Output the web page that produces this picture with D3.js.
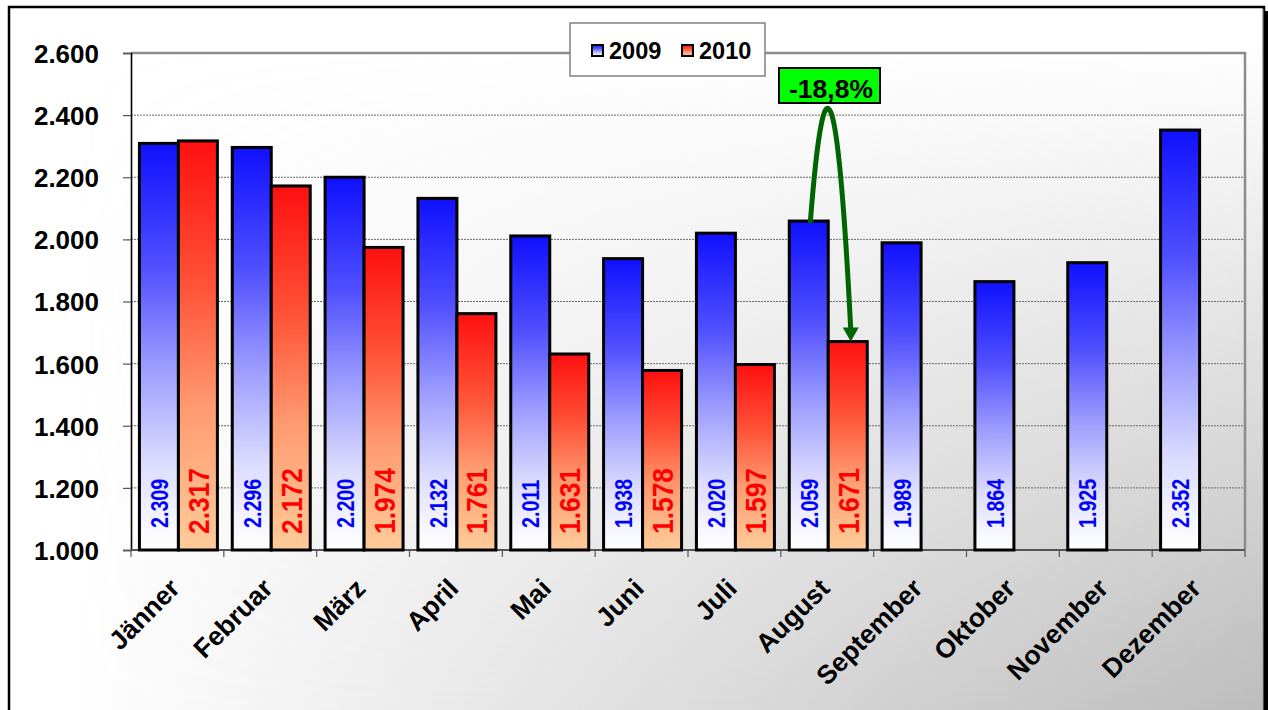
<!DOCTYPE html>
<html>
<head>
<meta charset="utf-8">
<script src="https://cdn.jsdelivr.net/npm/d3@7"></script>
<style>
  html, body { margin: 0; padding: 0; background: #ffffff; }
  svg { display: block; font-family: "Liberation Sans", Arial, Helvetica, sans-serif; }
</style>
</head>
<body>
<svg id="chart" width="1268" height="710"></svg>
<script>
// Monthly values, 2009 vs. 2010
const months = ["Jänner", "Februar", "März", "April", "Mai", "Juni", "Juli",
                "August", "September", "Oktober", "November", "Dezember"];
const seriesNames = ["2009", "2010"];
const values2009 = [2309, 2296, 2200, 2132, 2011, 1938, 2020, 2059, 1989, 1864, 1925, 2352];
const values2010 = [2317, 2172, 1974, 1761, 1631, 1578, 1597, 1671];
const yTicks = [1000, 1200, 1400, 1600, 1800, 2000, 2200, 2400, 2600];
const compareMonth = "August";

const de = d3.formatLocale({ decimal: ",", thousands: ".", grouping: [3], currency: ["", " €"], minus: "-" });
const fmtNum = de.format(",");
const fmtPct = de.format(".1%");

const svg = d3.select("#chart");
const W = 1268, H = 710;
const plot = { left: 131, right: 1245, top: 53, bottom: 550 };

const defs = svg.append("defs");

// ---- gradients ----
function vGrad(id, stops) {
  const g = defs.append("linearGradient").attr("id", id)
    .attr("x1", 0).attr("y1", 0).attr("x2", 0).attr("y2", 1);
  stops.forEach(([o, c]) => g.append("stop").attr("offset", o).attr("stop-color", c));
}
vGrad("blueFill", [[0, "#1010ff"], [0.3, "#4f4fff"], [0.55, "#9c9cff"], [0.78, "#dadaff"], [0.92, "#f4f4ff"], [1, "#ffffff"]]);
vGrad("redFill", [[0, "#ff1010"], [0.35, "#ff5236"], [0.65, "#ff9a70"], [1, "#ffcc99"]]);

// background shading: darkens towards the lower right corner
const hg = defs.append("linearGradient").attr("id", "bgH")
  .attr("x1", 0).attr("y1", 0).attr("x2", 1).attr("y2", 0);
hg.append("stop").attr("offset", 0).attr("stop-color", "#bcbcbc").attr("stop-opacity", 0);
hg.append("stop").attr("offset", 0.05).attr("stop-color", "#bcbcbc").attr("stop-opacity", 0);
hg.append("stop").attr("offset", 1).attr("stop-color", "#bcbcbc").attr("stop-opacity", 1);
const vg = defs.append("linearGradient").attr("id", "bgV")
  .attr("x1", 0).attr("y1", 0).attr("x2", 0).attr("y2", 1);
vg.append("stop").attr("offset", 0).attr("stop-color", "#000");
vg.append("stop").attr("offset", 0.05).attr("stop-color", "#000");
vg.append("stop").attr("offset", 1).attr("stop-color", "#fff");
defs.append("mask").attr("id", "bgMask")
  .attr("maskUnits", "userSpaceOnUse").attr("x", 0).attr("y", 0).attr("width", W).attr("height", H)
  .append("rect").attr("x", 9).attr("y", 7).attr("width", 1255).attr("height", 706).attr("fill", "url(#bgV)");

// ---- frame ----
svg.append("rect").attr("x", 13).attr("y", 11).attr("width", 1255).attr("height", 710).attr("fill", "#000");
svg.append("rect").attr("x", 9).attr("y", 7).attr("width", 1255).attr("height", 710)
  .attr("fill", "#ffffff").attr("stroke", "#000").attr("stroke-width", 2.5);
svg.append("rect").attr("x", 10.5).attr("y", 8.5).attr("width", 1252).attr("height", 706)
  .attr("fill", "url(#bgH)").attr("mask", "url(#bgMask)");
svg.append("line").attr("x1", 1263).attr("x2", 1263).attr("y1", 9).attr("y2", H)
  .attr("stroke", "#9a9a9a").attr("stroke-width", 1);

// ---- scales ----
const x = d3.scaleBand().domain(months).range([plot.left, plot.right])
  .paddingInner(0.16).paddingOuter(0.08);
const xSub = d3.scaleBand().domain(seriesNames).range([0, x.bandwidth()]);
const y = d3.scaleLinear().domain([yTicks[0], yTicks[yTicks.length - 1]]).range([plot.bottom, plot.top]);

// ---- grid ----
svg.append("g").selectAll("line")
  .data(yTicks.filter(t => t > yTicks[0] && t < yTicks[yTicks.length - 1]))
  .join("line")
  .attr("x1", plot.left).attr("x2", plot.right)
  .attr("y1", d => y(d)).attr("y2", d => y(d))
  .attr("stroke", "#6a6a6a").attr("stroke-width", 1).attr("stroke-dasharray", "2,1");

// plot area border (top / right)
svg.append("path")
  .attr("d", `M${plot.left},${y(yTicks[yTicks.length - 1])}H${plot.right}V${plot.bottom}`)
  .attr("fill", "none").attr("stroke", "#8c8c8c").attr("stroke-width", 2.5);

// ---- y axis ----
const yAxis = svg.append("g")
  .attr("transform", `translate(${plot.left},0)`)
  .call(d3.axisLeft(y).tickValues(yTicks).tickFormat(fmtNum).tickSize(8).tickPadding(24));
yAxis.select(".domain").attr("stroke", "#000").attr("stroke-width", 1.6);
yAxis.selectAll(".tick line").attr("stroke", "#555").attr("stroke-width", 1.2);
yAxis.selectAll(".tick text")
  .attr("fill", "#000").attr("font-size", 26).attr("font-weight", "bold")
  .attr("font-family", "'Liberation Sans', Arial, sans-serif")
  .attr("dy", "0.36em");

// ---- x axis ----
svg.append("line").attr("x1", plot.left).attr("x2", plot.right)
  .attr("y1", plot.bottom).attr("y2", plot.bottom)
  .attr("stroke", "#555").attr("stroke-width", 2);
const boundaries = months.map(m => x(m) - x.step() * x.paddingInner() / 2).concat([plot.right]);
svg.append("g").selectAll("line").data(boundaries).join("line")
  .attr("x1", d => d).attr("x2", d => d)
  .attr("y1", plot.bottom).attr("y2", plot.bottom + 7)
  .attr("stroke", "#555").attr("stroke-width", 1.2);
svg.append("g").selectAll("text").data(months).join("text")
  .attr("transform", d => `translate(${x(d) + x.bandwidth() / 2 + 4},${plot.bottom + 40}) rotate(-45)`)
  .attr("text-anchor", "end")
  .attr("font-size", 26.5).attr("font-weight", "bold").attr("fill", "#000")
  .text(d => d);

// ---- bars ----
const bars = [];
months.forEach((m, i) => {
  bars.push({ month: m, series: "2009", value: values2009[i] });
  if (i < values2010.length) bars.push({ month: m, series: "2010", value: values2010[i] });
});

svg.append("g").selectAll("rect").data(bars).join("rect")
  .attr("x", d => x(d.month) + xSub(d.series) + 1)
  .attr("width", xSub.bandwidth())
  .attr("y", d => y(d.value))
  .attr("height", d => y(yTicks[0]) - y(d.value))
  .attr("fill", d => d.series === "2009" ? "url(#blueFill)" : "url(#redFill)")
  .attr("stroke", "#000").attr("stroke-width", 3);

// value labels, vertical near the bar foot
const labelStyle = {
  "2009": { size: 24, scale: 0.82, color: "#0000ff", base: plot.bottom - 22 },
  "2010": { size: 29, scale: 0.91, color: "#ff0000", base: plot.bottom - 16 }
};
svg.append("g").selectAll("text").data(bars).join("text")
  .attr("transform", d => {
    const s = labelStyle[d.series];
    const cx = x(d.month) + xSub(d.series) + xSub.bandwidth() / 2 + 2;
    return `translate(${cx},${s.base}) rotate(-90) scale(${s.scale},1)`;
  })
  .attr("dominant-baseline", "central")
  .attr("font-size", d => labelStyle[d.series].size)
  .attr("font-weight", "bold")
  .attr("fill", d => labelStyle[d.series].color)
  .text(d => fmtNum(d.value));

// ---- legend ----
const legend = svg.append("g");
legend.append("rect").attr("x", 570).attr("y", 23).attr("width", 195).attr("height", 53)
  .attr("fill", "#ffffff").attr("stroke", "#808080").attr("stroke-width", 1.5);
const legendItems = [
  { name: seriesNames[0], fill: "url(#blueFill)", x: 592 },
  { name: seriesNames[1], fill: "url(#redFill)", x: 682 }
];
legendItems.forEach(it => {
  legend.append("rect").attr("x", it.x).attr("y", 45).attr("width", 11).attr("height", 11)
    .attr("fill", it.fill).attr("stroke", "#000").attr("stroke-width", 2);
  legend.append("text").attr("x", it.x + 17).attr("y", 59)
    .attr("font-size", 23.5).attr("font-weight", "bold").attr("fill", "#000")
    .text(it.name);
});

// ---- change annotation for the compared month ----
const ci = months.indexOf(compareMonth);
const v0 = values2009[ci], v1 = values2010[ci];
const sx = x(compareMonth) + xSub("2009") + xSub.bandwidth() / 2 + 2.5;
const sy = y(v0) + 2;
const tipX = x(compareMonth) + xSub("2010") + xSub.bandwidth() / 2 + 4;
const tipY = y(v1);
const headLen = 14, headHalf = 8;
const peakX = (sx + tipX) / 2 + 0.5, peakY = y(2400) - 3;
const ex = tipX, ey = tipY - headLen;
const cx = 2 * peakX - 0.5 * (sx + ex), cy = 2 * peakY - 0.5 * (sy + ey);
svg.append("path")
  .attr("d", `M${sx},${sy}Q${cx},${cy} ${ex},${ey + 2}`)
  .attr("fill", "none").attr("stroke", "#006400").attr("stroke-width", 5);
svg.append("path")
  .attr("d", `M${tipX},${tipY}L${tipX - headHalf},${ey}L${tipX + headHalf},${ey}Z`)
  .attr("fill", "#006400");

const boxCx = 829.5, boxCy = 85.5;
svg.append("rect").attr("x", boxCx - 50.5).attr("y", boxCy - 17.5).attr("width", 101).attr("height", 35)
  .attr("fill", "#00ff00").attr("stroke", "#000").attr("stroke-width", 2);
svg.append("text").attr("x", boxCx + 1.5).attr("y", boxCy + 12.5)
  .attr("text-anchor", "middle")
  .attr("font-size", 26.5).attr("font-weight", "bold").attr("fill", "#000")
  .text(fmtPct((v1 - v0) / v0));
</script>
</body>
</html>
